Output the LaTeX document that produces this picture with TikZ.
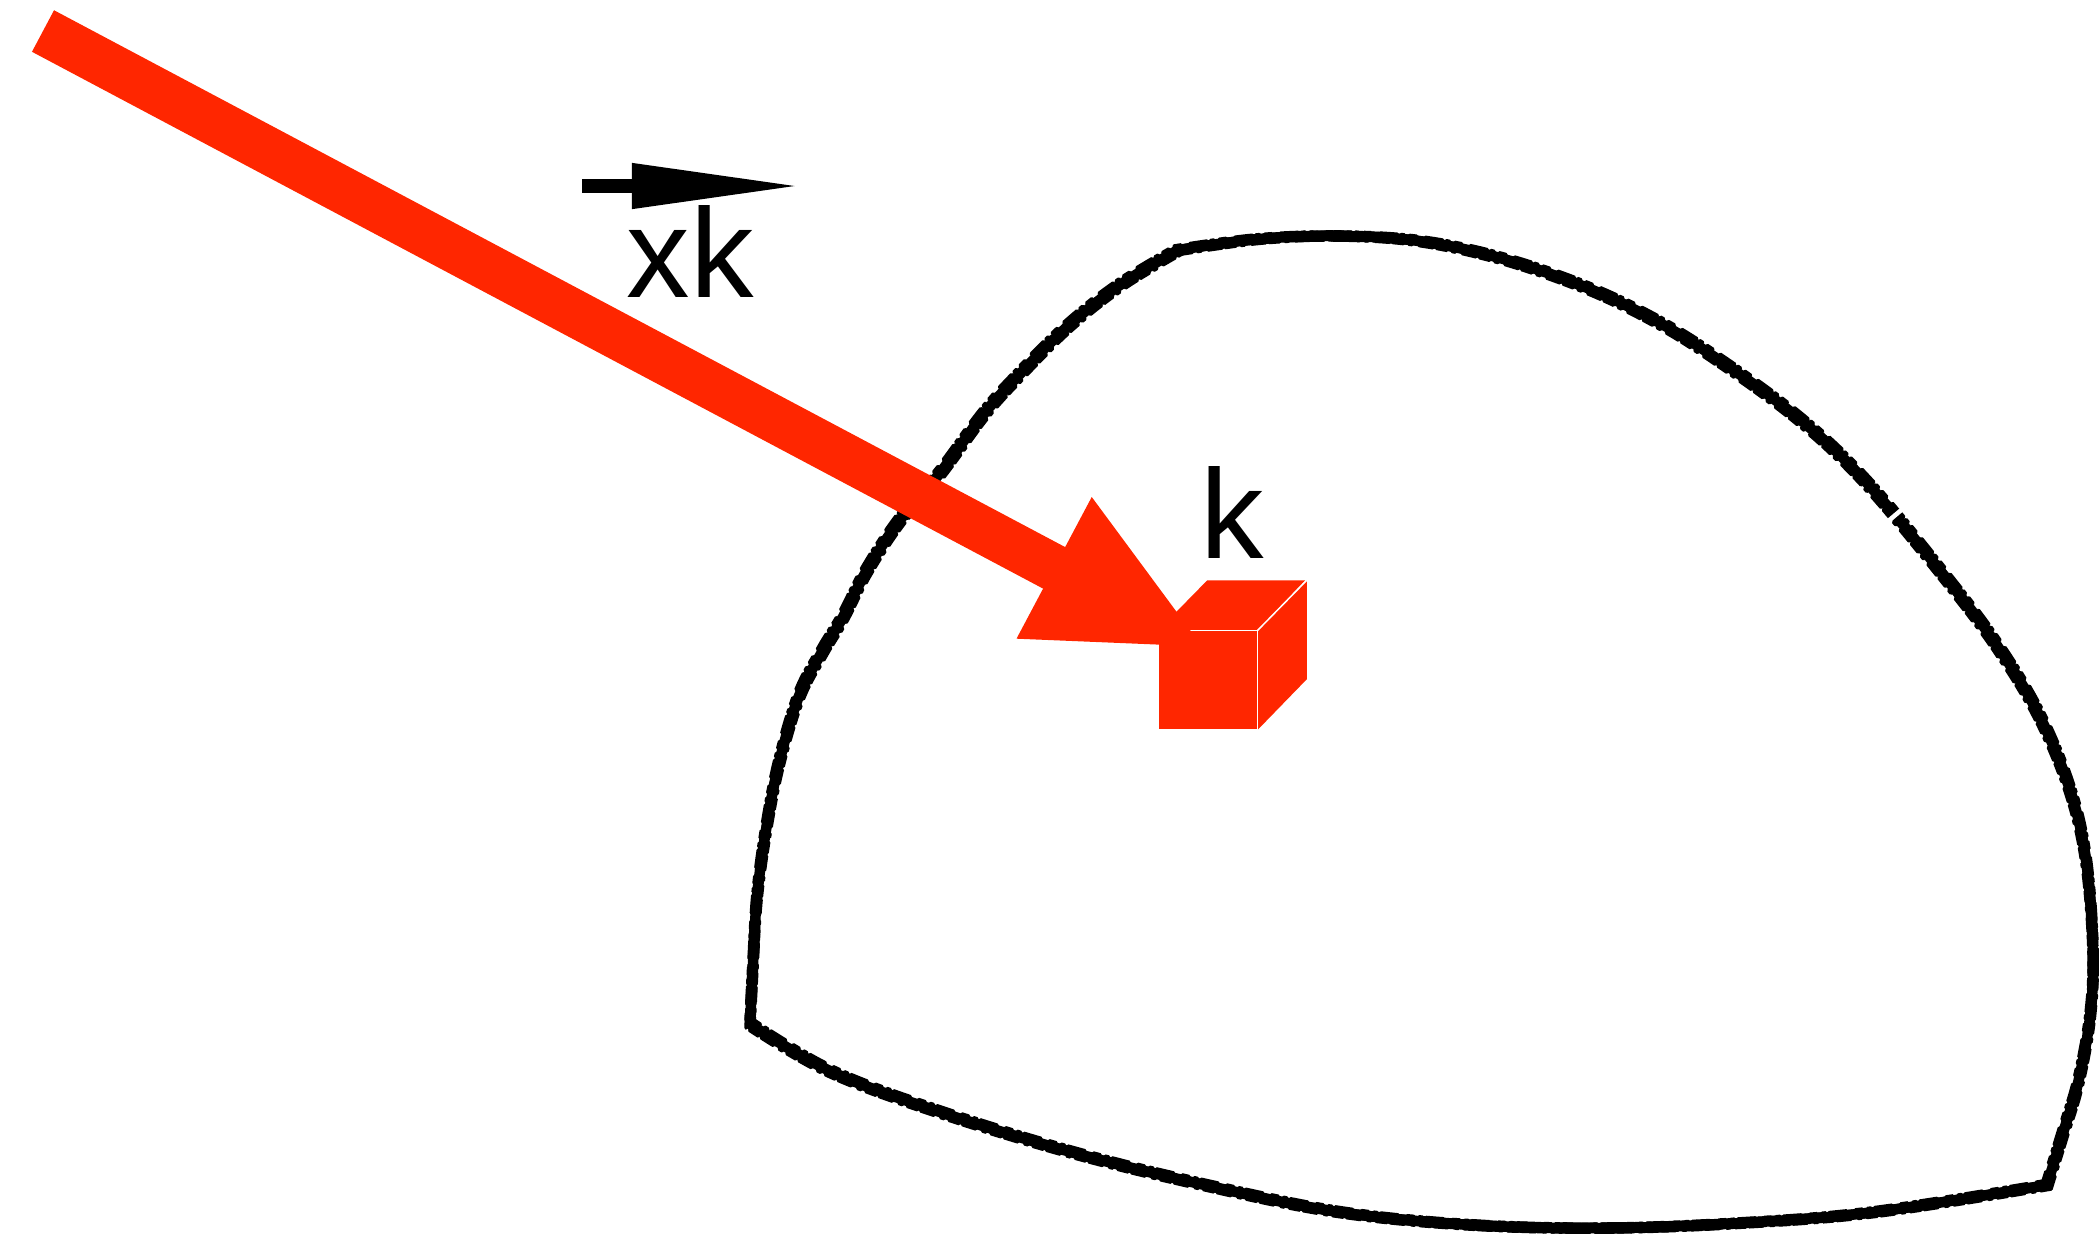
\documentclass[tikz,border=0pt]{standalone}
\usepackage{fontspec}
\setmainfont{Liberation Sans}
\usetikzlibrary{arrows.meta}
\definecolor{vred}{RGB}{255,38,0}
\tikzset{
  lbl/.style={inner sep=0pt, anchor=base west, font=\fontsize{36.1}{40}\selectfont},
  bigarrow/.style={draw=vred, line width=0.47cm, line cap=butt,
    -{Triangle[length=1.73cm, width=1.46cm]}},
  vecarrow/.style={draw=black, line width=0.14cm, line cap=butt,
    -{Triangle[length=1.70cm, width=0.42cm]}},
  cubeface/.style={fill=vred, draw=none},
  cubeedge/.style={draw=white, line width=0.015cm},
  sketch/.style={draw=black, line width=0.105cm, line join=round, line cap=round},
  roughA/.style={draw=black, line width=0.035cm, line cap=round,
    dash pattern=on 3pt off 1.5pt on 1pt off 2pt on 4pt off 1pt},
  roughB/.style={draw=black, line width=0.035cm, line cap=round,
    dash pattern=on 2pt off 2.5pt on 5pt off 1pt on 1pt off 1.5pt},
  gapmark/.style={draw=white, line width=0.045cm},
}
\begin{document}
\begin{tikzpicture}[x=0.01cm, y=-0.01cm]
\useasboundingbox (0,0) rectangle (2100,1241);
% blob outline, three sides
\def\sideA{plot[smooth, tension=0.6] coordinates {(1178,250) (1259,239) (1339,236) (1419,241) (1500,258) (1580,285) (1645,315) (1707,352) (1797,417) (1867,483) (1950,583) (2000,650) (2040,717) (2070,790) (2086,860) (2093,950) (2090,1017) (2078,1083) (2063,1133) (2047,1185)}}
\def\sideB{plot[smooth, tension=0.6] coordinates {(2047,1185) (1875,1212) (1741,1223) (1607,1228) (1473,1225) (1339,1212) (1205,1185) (1071,1152) (937,1111) (830,1071) (750,1024)}}
\def\sideC{plot[smooth, tension=0.6] coordinates {(750,1024) (753,964) (757,897) (766,830) (779,763) (799,696) (822,652) (843,617) (867,570) (900,520) (940,473) (983,415) (1017,377) (1067,327) (1120,285) (1178,250)}}
\foreach \s in {\sideA,\sideB,\sideC}{
  \draw[sketch] \s;
  \begin{scope}[shift={(4,4)}]
    \draw[roughA] \s;
  \end{scope}
  \begin{scope}[shift={(-4,-4)}]
    \draw[roughB] \s;
  \end{scope}
  \begin{scope}[shift={(4,-4)}]
    \draw[roughB] \s;
  \end{scope}
  \begin{scope}[shift={(-4,4)}]
    \draw[roughA] \s;
  \end{scope}
}
\coordinate (g1) at (1880,528);
\coordinate (g2) at (1906,506);
\draw[gapmark] (g1) -- (g2);
% cube
\node[cubeface, minimum width=0.98cm, minimum height=0.98cm, inner sep=0pt] (cube) at (1208,680) {};
\fill[vred] (cube.north west) -- ++(49,-50) -- ++(98,0) -- (cube.north east) -- cycle;
\fill[vred] (cube.north east) -- ++(49,-50) -- ++(0,99) -- (cube.south east) -- cycle;
\draw[cubeedge] (cube.north west) -- (cube.north east) -- (cube.south east);
\draw[cubeedge] (cube.north east) -- ++(49,-50);
% big red arrow
\coordinate (start) at (43,31);
\coordinate (tip) at (1207,649);
\draw[bigarrow] (start) -- (tip);
% labels
\node[lbl] (xk) at (626,297) {xk};
\coordinate (vs) at (582,186);
\coordinate (ve) at (802,186);
\draw[vecarrow] (vs) -- (ve);
\node[lbl] (k) at (1200,558) {k};
\end{tikzpicture}
\end{document}
